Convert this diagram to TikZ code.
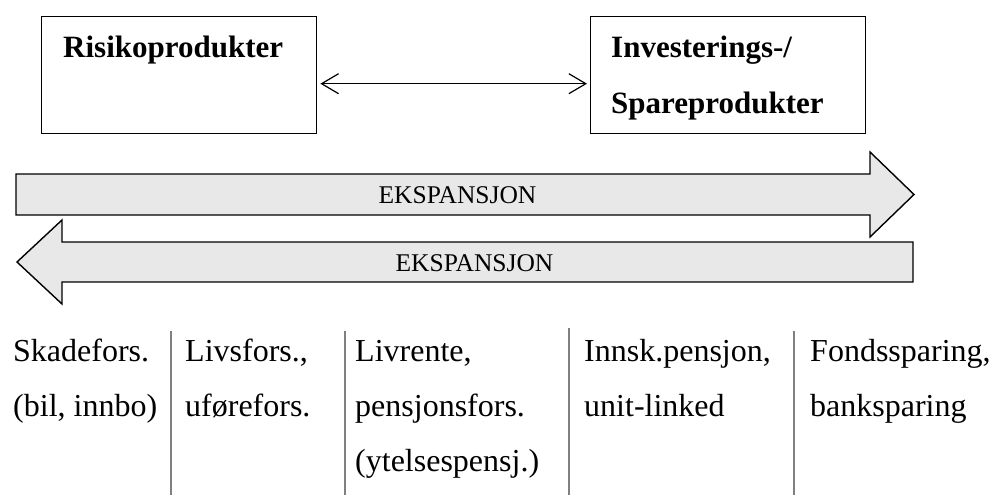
\documentclass[tikz,border=0pt]{standalone}
\usepackage{fontspec}
\setmainfont{Liberation Serif}
\usetikzlibrary{arrows.meta}
\definecolor{arrowfill}{HTML}{E8E8E8}
\definecolor{sepgray}{HTML}{808080}
\begin{document}
\begin{tikzpicture}[x=1pt,y=-1pt,
  prodbox/.style={draw=black,line width=1.4pt,fill=white,minimum width=275pt,minimum height=117pt,anchor=north west,inner sep=0pt},
  titletext/.style={anchor=base west,inner sep=0pt,font=\fontsize{31}{37}\selectfont\bfseries},
  bigarrow/.style={draw=black,line width=1.4pt,fill=arrowfill,line join=miter},
  arrowtext/.style={inner sep=0pt,font=\fontsize{25.5}{30}\selectfont},
  celltext/.style={anchor=base west,inner sep=0pt,font=\fontsize{32}{38}\selectfont},
  sepline/.style={draw=sepgray,line width=1.5pt},
  link/.style={<->,line width=1.2pt,>={Straight Barb[length=17pt,width=20pt,line width=1.2pt]},shorten <=3pt,shorten >=3pt}
]
\useasboundingbox (0,0) rectangle (990,495);

% top boxes
\node[prodbox] (risk) at (41,16) {};
\node[prodbox] (inv) at (590,16) {};
\node[titletext] (risktxt) at (63,57) {Risikoprodukter};
\node[titletext] (invtxt1) at (611,57) {Investerings-/};
\node[titletext] (invtxt2) at (611,113) {Spareprodukter};
\draw[link] ([yshift=-8.5pt]risk.east) -- ([yshift=-8.5pt]inv.west);

% expansion arrows
\draw[bigarrow] (16,174) -- (870,174) -- (870,152) -- (914,194.5) -- (870,237) -- (870,215) -- (16,215) -- cycle;
\node[arrowtext] (exp1) at (457.5,195) {EKSPANSJON};
\draw[bigarrow] (913,242) -- (62,242) -- (62,220) -- (17,262) -- (62,304) -- (62,282) -- (913,282) -- cycle;
\node[arrowtext] (exp2) at (474.5,263) {EKSPANSJON};

% separators
\coordinate (s1t) at (171,331); \coordinate (s1b) at (171,495);
\coordinate (s2t) at (345,331); \coordinate (s2b) at (345,495);
\coordinate (s3t) at (569,328); \coordinate (s3b) at (569,495);
\coordinate (s4t) at (794,331); \coordinate (s4b) at (794,495);
\draw[sepline] (s1t) -- (s1b);
\draw[sepline] (s2t) -- (s2b);
\draw[sepline] (s3t) -- (s3b);
\draw[sepline] (s4t) -- (s4b);

% cell texts
\node[celltext] (c1a) at (13,361) {Skadefors.};
\node[celltext] (c1b) at (13,416) {(bil, innbo)};
\node[celltext] (c2a) at (185,361) {Livsfors.,};
\node[celltext] (c2b) at (185,416) {uførefors.};
\node[celltext] (c3a) at (355,361) {Livrente,};
\node[celltext] (c3b) at (355,416) {pensjonsfors.};
\node[celltext] (c3c) at (355,471) {(ytelsespensj.)};
\node[celltext] (c4a) at (584,361) {Innsk.pensjon,};
\node[celltext] (c4b) at (584,416) {unit-linked};
\node[celltext] (c5a) at (810,361) {Fondssparing,};
\node[celltext] (c5b) at (810,416) {banksparing};
\end{tikzpicture}
\end{document}
